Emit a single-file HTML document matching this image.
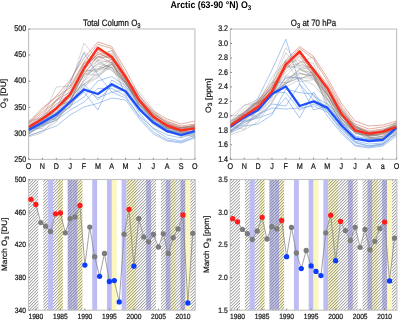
<!DOCTYPE html><html><head><meta charset="utf-8"><style>html,body{margin:0;padding:0;background:#fff;width:399px;height:321px;overflow:hidden}svg{will-change:transform}text{-webkit-font-smoothing:antialiased;text-rendering:geometricPrecision}</style></head><body><div id="w"><svg width="399" height="321" viewBox="0 0 399 321" style="display:block">
<g>
<rect width="399" height="321" fill="#fff"/>
<clipPath id="cTL"><rect x="28.6" y="29.0" width="166.30" height="130.40"/></clipPath>
<rect x="28.6" y="29.0" width="166.30" height="130.40" fill="#fff" stroke="#c2c2c2" stroke-width="1.1"/>
<g clip-path="url(#cTL)">
<polyline points="28.60,122.20 42.46,117.81 56.32,110.23 70.18,93.51 84.03,71.82 97.89,60.27 111.75,53.28 125.61,79.61 139.47,95.81 153.33,119.94 167.18,123.27 181.04,129.95 194.90,124.37" fill="none" stroke="#767676" stroke-width="0.65" stroke-linejoin="round" stroke-opacity="0.45"/>
<polyline points="28.60,130.03 42.46,117.43 56.32,112.20 70.18,94.15 84.03,76.29 97.89,63.56 111.75,59.39 125.61,75.01 139.47,101.44 153.33,116.71 167.18,128.57 181.04,128.03 194.90,126.77" fill="none" stroke="#767676" stroke-width="0.65" stroke-linejoin="round" stroke-opacity="0.45"/>
<polyline points="28.60,129.29 42.46,121.37 56.32,110.11 70.18,96.01 84.03,69.60 97.89,57.13 111.75,57.91 125.61,81.42 139.47,104.45 153.33,118.65 167.18,127.72 181.04,131.10 194.90,127.89" fill="none" stroke="#767676" stroke-width="0.65" stroke-linejoin="round" stroke-opacity="0.45"/>
<polyline points="28.60,133.50 42.46,126.70 56.32,116.86 70.18,107.19 84.03,85.81 97.89,77.58 111.75,63.56 125.61,86.83 139.47,100.14 153.33,122.54 167.18,132.36 181.04,133.29 194.90,134.39" fill="none" stroke="#767676" stroke-width="0.65" stroke-linejoin="round" stroke-opacity="0.45"/>
<polyline points="28.60,131.00 42.46,124.00 56.32,117.00 70.18,103.00 84.03,84.00 97.89,100.00 111.75,86.00 125.61,92.00 139.47,113.00 153.33,129.00 167.18,138.00 181.04,141.00 194.90,135.00" fill="none" stroke="#5a92de" stroke-width="0.65" stroke-linejoin="round" stroke-opacity="0.8"/>
<polyline points="28.60,133.00 42.46,126.00 56.32,120.00 70.18,110.00 84.03,102.00 97.89,88.40 111.75,88.40 125.61,96.00 139.47,117.00 153.33,132.00 167.18,140.00 181.04,142.00 194.90,137.00" fill="none" stroke="#5a92de" stroke-width="0.65" stroke-linejoin="round" stroke-opacity="0.8"/>
<polyline points="28.60,128.00 42.46,118.00 56.32,87.00 70.18,86.00 84.03,43.10 97.89,60.00 111.75,70.00 125.61,84.00 139.47,100.00 153.33,118.00 167.18,126.00 181.04,130.00 194.90,127.00" fill="none" stroke="#767676" stroke-width="0.65" stroke-linejoin="round" stroke-opacity="0.45"/>
<polyline points="28.60,131.38 42.46,122.32 56.32,107.68 70.18,96.46 84.03,75.24 97.89,68.60 111.75,64.78 125.61,80.97 139.47,105.28 153.33,115.10 167.18,128.08 181.04,132.79 194.90,126.09" fill="none" stroke="#767676" stroke-width="0.65" stroke-linejoin="round" stroke-opacity="0.45"/>
<polyline points="28.60,128.92 42.46,123.89 56.32,116.50 70.18,94.93 84.03,70.07 97.89,71.46 111.75,61.74 125.61,83.81 139.47,103.10 153.33,113.52 167.18,131.29 181.04,133.82 194.90,126.90" fill="none" stroke="#767676" stroke-width="0.65" stroke-linejoin="round" stroke-opacity="0.45"/>
<polyline points="28.60,128.00 42.46,120.00 56.32,108.00 70.18,82.00 84.03,53.00 97.89,74.70 111.75,92.00 125.61,90.00 139.47,108.00 153.33,123.00 167.18,132.00 181.04,136.00 194.90,132.00" fill="none" stroke="#5a92de" stroke-width="0.65" stroke-linejoin="round" stroke-opacity="0.8"/>
<polyline points="28.60,124.00 42.46,112.00 56.32,100.00 70.18,92.00 84.03,66.00 97.89,50.00 111.75,58.00 125.61,78.00 139.47,100.00 153.33,115.00 167.18,122.00 181.04,127.00 194.90,126.00" fill="none" stroke="#c8705a" stroke-width="0.65" stroke-linejoin="round" stroke-opacity="0.85"/>
<polyline points="28.60,120.52 42.46,117.94 56.32,109.16 70.18,89.73 84.03,62.39 97.89,56.68 111.75,57.12 125.61,79.22 139.47,92.55 153.33,109.69 167.18,124.57 181.04,128.05 194.90,127.21" fill="none" stroke="#767676" stroke-width="0.65" stroke-linejoin="round" stroke-opacity="0.45"/>
<polyline points="28.60,132.00 42.46,125.00 56.32,118.00 70.18,106.00 84.03,97.00 97.89,81.00 111.75,76.60 125.61,86.00 139.47,104.00 153.33,120.00 167.18,129.00 181.04,133.00 194.90,131.00" fill="none" stroke="#5a92de" stroke-width="0.65" stroke-linejoin="round" stroke-opacity="0.8"/>
<polyline points="28.60,129.86 42.46,116.84 56.32,119.72 70.18,101.33 84.03,71.46 97.89,69.12 111.75,59.07 125.61,95.50 139.47,107.84 153.33,121.53 167.18,128.26 181.04,127.84 194.90,129.92" fill="none" stroke="#767676" stroke-width="0.65" stroke-linejoin="round" stroke-opacity="0.45"/>
<polyline points="28.60,122.00 42.46,108.00 56.32,97.00 70.18,88.00 84.03,64.00 97.89,49.00 111.75,55.00 125.61,76.00 139.47,99.00 153.33,114.00 167.18,123.00 181.04,128.00 194.90,125.00" fill="none" stroke="#c8705a" stroke-width="0.65" stroke-linejoin="round" stroke-opacity="0.85"/>
<polyline points="28.60,127.44 42.46,121.89 56.32,113.18 70.18,107.34 84.03,77.93 97.89,65.98 111.75,70.48 125.61,82.09 139.47,108.19 153.33,116.43 167.18,126.17 181.04,132.86 194.90,132.82" fill="none" stroke="#767676" stroke-width="0.65" stroke-linejoin="round" stroke-opacity="0.45"/>
<polyline points="28.60,134.36 42.46,123.17 56.32,113.05 70.18,94.98 84.03,83.62 97.89,73.89 111.75,64.56 125.61,82.19 139.47,99.76 153.33,119.88 167.18,128.64 181.04,137.09 194.90,130.43" fill="none" stroke="#767676" stroke-width="0.65" stroke-linejoin="round" stroke-opacity="0.45"/>
<polyline points="28.60,136.00 42.46,131.00 56.32,126.00 70.18,115.00 84.03,107.00 97.89,103.40 111.75,98.00 125.61,100.00 139.47,119.00 153.33,134.00 167.18,141.00 181.04,143.00 194.90,138.00" fill="none" stroke="#5a92de" stroke-width="0.65" stroke-linejoin="round" stroke-opacity="0.8"/>
<polyline points="28.60,130.00 42.46,122.00 56.32,114.00 70.18,100.00 84.03,88.00 97.89,97.80 111.75,92.20 125.61,98.00 139.47,116.00 153.33,128.00 167.18,135.00 181.04,138.00 194.90,133.00" fill="none" stroke="#5a92de" stroke-width="0.65" stroke-linejoin="round" stroke-opacity="0.8"/>
<polyline points="28.60,124.03 42.46,119.36 56.32,112.48 70.18,99.52 84.03,80.85 97.89,60.01 111.75,62.54 125.61,84.20 139.47,101.17 153.33,111.32 167.18,128.58 181.04,135.97 194.90,130.83" fill="none" stroke="#767676" stroke-width="0.65" stroke-linejoin="round" stroke-opacity="0.45"/>
<polyline points="28.60,128.14 42.46,116.97 56.32,105.35 70.18,101.59 84.03,67.46 97.89,54.38 111.75,50.79 125.61,76.01 139.47,97.50 153.33,112.82 167.18,123.32 181.04,128.07 194.90,125.22" fill="none" stroke="#767676" stroke-width="0.65" stroke-linejoin="round" stroke-opacity="0.45"/>
<polyline points="28.60,129.16 42.46,118.84 56.32,100.65 70.18,95.62 84.03,63.73 97.89,58.09 111.75,50.23 125.61,76.48 139.47,95.25 153.33,114.89 167.18,131.36 181.04,127.82 194.90,126.36" fill="none" stroke="#767676" stroke-width="0.65" stroke-linejoin="round" stroke-opacity="0.45"/>
<polyline points="28.60,129.00 42.46,121.00 56.32,113.00 70.18,104.00 84.03,92.00 97.89,110.00 111.75,80.00 125.61,88.00 139.47,106.00 153.33,121.00 167.18,130.00 181.04,135.00 194.90,130.00" fill="none" stroke="#5a92de" stroke-width="0.65" stroke-linejoin="round" stroke-opacity="0.8"/>
<polyline points="28.60,129.89 42.46,124.71 56.32,120.66 70.18,104.64 84.03,88.00 97.89,69.81 111.75,67.59 125.61,82.70 139.47,105.25 153.33,117.57 167.18,125.60 181.04,135.17 194.90,136.17" fill="none" stroke="#767676" stroke-width="0.65" stroke-linejoin="round" stroke-opacity="0.45"/>
<polyline points="28.60,130.00 42.46,121.00 56.32,100.00 70.18,82.00 84.03,51.80 97.89,62.00 111.75,68.00 125.61,84.00 139.47,101.00 153.33,118.00 167.18,127.00 181.04,131.00 194.90,128.00" fill="none" stroke="#767676" stroke-width="0.65" stroke-linejoin="round" stroke-opacity="0.45"/>
<polyline points="28.60,129.00 42.46,119.00 56.32,108.00 70.18,97.00 84.03,70.00 97.89,52.00 111.75,60.00 125.61,80.00 139.47,102.00 153.33,117.00 167.18,125.00 181.04,130.00 194.90,129.00" fill="none" stroke="#c8705a" stroke-width="0.65" stroke-linejoin="round" stroke-opacity="0.85"/>
<polyline points="28.60,133.05 42.46,125.22 56.32,106.58 70.18,96.57 84.03,73.80 97.89,64.02 111.75,67.06 125.61,81.92 139.47,105.47 153.33,119.07 167.18,126.96 181.04,131.97 194.90,130.34" fill="none" stroke="#767676" stroke-width="0.65" stroke-linejoin="round" stroke-opacity="0.45"/>
<polyline points="28.60,126.00 42.46,114.00 56.32,101.00 70.18,86.00 84.03,62.00 97.89,44.40 111.75,48.50 125.61,74.00 139.47,99.00 153.33,113.00 167.18,121.00 181.04,126.00 194.90,124.00" fill="none" stroke="#c8705a" stroke-width="0.65" stroke-linejoin="round" stroke-opacity="0.85"/>
<polyline points="28.60,136.93 42.46,132.71 56.32,117.82 70.18,100.33 84.03,80.87 97.89,69.46 111.75,64.14 125.61,80.67 139.47,101.63 153.33,121.67 167.18,130.41 181.04,133.00 194.90,136.80" fill="none" stroke="#767676" stroke-width="0.65" stroke-linejoin="round" stroke-opacity="0.45"/>
<polyline points="28.60,135.52 42.46,130.76 56.32,122.05 70.18,100.71 84.03,73.40 97.89,75.47 111.75,66.99 125.61,93.68 139.47,108.02 153.33,124.97 167.18,132.26 181.04,129.86 194.90,135.22" fill="none" stroke="#767676" stroke-width="0.65" stroke-linejoin="round" stroke-opacity="0.45"/>
<polyline points="28.60,123.00 42.46,110.00 56.32,96.00 70.18,80.00 84.03,58.00 97.89,41.90 111.75,46.60 125.61,70.00 139.47,96.00 153.33,111.00 167.18,119.00 181.04,124.00 194.90,121.00" fill="none" stroke="#c8705a" stroke-width="0.65" stroke-linejoin="round" stroke-opacity="0.85"/>
<polyline points="28.60,128.00 42.46,118.00 56.32,107.00 70.18,101.00 84.03,74.00 97.89,56.00 111.75,63.00 125.61,82.00 139.47,103.00 153.33,118.00 167.18,127.00 181.04,132.00 194.90,131.00" fill="none" stroke="#c8705a" stroke-width="0.65" stroke-linejoin="round" stroke-opacity="0.85"/>
<polyline points="28.60,127.00 42.46,116.00 56.32,104.00 70.18,95.00 84.03,68.00 97.89,54.00 111.75,58.00 125.61,78.00 139.47,101.00 153.33,116.00 167.18,124.00 181.04,129.00 194.90,127.00" fill="none" stroke="#c8705a" stroke-width="0.65" stroke-linejoin="round" stroke-opacity="0.85"/>
<polyline points="28.60,128.08 42.46,128.55 56.32,107.70 70.18,98.13 84.03,83.76 97.89,76.65 111.75,61.93 125.61,79.61 139.47,107.75 153.33,122.85 167.18,126.91 181.04,131.56 194.90,128.79" fill="none" stroke="#767676" stroke-width="0.65" stroke-linejoin="round" stroke-opacity="0.45"/>
<polyline points="28.60,130.00 42.46,122.40 56.32,114.60 70.18,102.00 84.03,89.70 97.89,94.00 111.75,84.20 125.61,91.20 139.47,109.30 153.33,122.60 167.18,131.20 181.04,135.00 194.90,131.20" fill="none" stroke="#1f50ff" stroke-width="2.3" stroke-linejoin="round" stroke-opacity="1.0"/>
<polyline points="28.60,127.00 42.46,119.00 56.32,108.50 70.18,94.00 84.03,68.50 97.89,47.60 111.75,57.00 125.61,77.00 139.47,100.60 153.33,116.70 167.18,125.60 181.04,130.30 194.90,128.40" fill="none" stroke="#ff2b1c" stroke-width="2.3" stroke-linejoin="round" stroke-opacity="1.0"/>
</g>
<line x1="28.60" y1="159.4" x2="28.60" y2="157.8" stroke="#8a8a8a" stroke-width="1"/>
<text transform="translate(28.6 168.5) scale(1 1.16)" font-family='"Liberation Sans", sans-serif' font-size="7.2" font-weight="normal" text-anchor="middle" fill="#141414" stroke="#141414" stroke-width="0.2">O</text>
<line x1="42.46" y1="159.4" x2="42.46" y2="157.8" stroke="#8a8a8a" stroke-width="1"/>
<text transform="translate(42.46 168.5) scale(1 1.16)" font-family='"Liberation Sans", sans-serif' font-size="7.2" font-weight="normal" text-anchor="middle" fill="#141414" stroke="#141414" stroke-width="0.2">N</text>
<line x1="56.32" y1="159.4" x2="56.32" y2="157.8" stroke="#8a8a8a" stroke-width="1"/>
<text transform="translate(56.32 168.5) scale(1 1.16)" font-family='"Liberation Sans", sans-serif' font-size="7.2" font-weight="normal" text-anchor="middle" fill="#141414" stroke="#141414" stroke-width="0.2">D</text>
<line x1="70.18" y1="159.4" x2="70.18" y2="157.8" stroke="#8a8a8a" stroke-width="1"/>
<text transform="translate(70.18 168.5) scale(1 1.16)" font-family='"Liberation Sans", sans-serif' font-size="7.2" font-weight="normal" text-anchor="middle" fill="#141414" stroke="#141414" stroke-width="0.2">J</text>
<line x1="84.03" y1="159.4" x2="84.03" y2="157.8" stroke="#8a8a8a" stroke-width="1"/>
<text transform="translate(84.03 168.5) scale(1 1.16)" font-family='"Liberation Sans", sans-serif' font-size="7.2" font-weight="normal" text-anchor="middle" fill="#141414" stroke="#141414" stroke-width="0.2">F</text>
<line x1="97.89" y1="159.4" x2="97.89" y2="157.8" stroke="#8a8a8a" stroke-width="1"/>
<text transform="translate(97.89 168.5) scale(1 1.16)" font-family='"Liberation Sans", sans-serif' font-size="7.2" font-weight="normal" text-anchor="middle" fill="#141414" stroke="#141414" stroke-width="0.2">M</text>
<line x1="111.75" y1="159.4" x2="111.75" y2="157.8" stroke="#8a8a8a" stroke-width="1"/>
<text transform="translate(111.75 168.5) scale(1 1.16)" font-family='"Liberation Sans", sans-serif' font-size="7.2" font-weight="normal" text-anchor="middle" fill="#141414" stroke="#141414" stroke-width="0.2">A</text>
<line x1="125.61" y1="159.4" x2="125.61" y2="157.8" stroke="#8a8a8a" stroke-width="1"/>
<text transform="translate(125.61 168.5) scale(1 1.16)" font-family='"Liberation Sans", sans-serif' font-size="7.2" font-weight="normal" text-anchor="middle" fill="#141414" stroke="#141414" stroke-width="0.2">M</text>
<line x1="139.47" y1="159.4" x2="139.47" y2="157.8" stroke="#8a8a8a" stroke-width="1"/>
<text transform="translate(139.47 168.5) scale(1 1.16)" font-family='"Liberation Sans", sans-serif' font-size="7.2" font-weight="normal" text-anchor="middle" fill="#141414" stroke="#141414" stroke-width="0.2">J</text>
<line x1="153.33" y1="159.4" x2="153.33" y2="157.8" stroke="#8a8a8a" stroke-width="1"/>
<text transform="translate(153.33 168.5) scale(1 1.16)" font-family='"Liberation Sans", sans-serif' font-size="7.2" font-weight="normal" text-anchor="middle" fill="#141414" stroke="#141414" stroke-width="0.2">J</text>
<line x1="167.18" y1="159.4" x2="167.18" y2="157.8" stroke="#8a8a8a" stroke-width="1"/>
<text transform="translate(167.18 168.5) scale(1 1.16)" font-family='"Liberation Sans", sans-serif' font-size="7.2" font-weight="normal" text-anchor="middle" fill="#141414" stroke="#141414" stroke-width="0.2">A</text>
<line x1="181.04" y1="159.4" x2="181.04" y2="157.8" stroke="#8a8a8a" stroke-width="1"/>
<text transform="translate(181.04 168.5) scale(1 1.16)" font-family='"Liberation Sans", sans-serif' font-size="7.2" font-weight="normal" text-anchor="middle" fill="#141414" stroke="#141414" stroke-width="0.2">S</text>
<line x1="194.90" y1="159.4" x2="194.90" y2="157.8" stroke="#8a8a8a" stroke-width="1"/>
<text transform="translate(194.9 168.5) scale(1 1.16)" font-family='"Liberation Sans", sans-serif' font-size="7.2" font-weight="normal" text-anchor="middle" fill="#141414" stroke="#141414" stroke-width="0.2">O</text>
<line x1="28.6" y1="29.00" x2="30.200000000000003" y2="29.00" stroke="#8a8a8a" stroke-width="1"/>
<text transform="translate(26.200000000000003 31.3) scale(1 1.16)" font-family='"Liberation Sans", sans-serif' font-size="7.1" font-weight="normal" text-anchor="end" fill="#141414" stroke="#141414" stroke-width="0.2">500</text>
<line x1="28.6" y1="55.08" x2="30.200000000000003" y2="55.08" stroke="#8a8a8a" stroke-width="1"/>
<text transform="translate(26.200000000000003 57.38) scale(1 1.16)" font-family='"Liberation Sans", sans-serif' font-size="7.1" font-weight="normal" text-anchor="end" fill="#141414" stroke="#141414" stroke-width="0.2">450</text>
<line x1="28.6" y1="81.16" x2="30.200000000000003" y2="81.16" stroke="#8a8a8a" stroke-width="1"/>
<text transform="translate(26.200000000000003 83.46) scale(1 1.16)" font-family='"Liberation Sans", sans-serif' font-size="7.1" font-weight="normal" text-anchor="end" fill="#141414" stroke="#141414" stroke-width="0.2">400</text>
<line x1="28.6" y1="107.24" x2="30.200000000000003" y2="107.24" stroke="#8a8a8a" stroke-width="1"/>
<text transform="translate(26.200000000000003 109.54) scale(1 1.16)" font-family='"Liberation Sans", sans-serif' font-size="7.1" font-weight="normal" text-anchor="end" fill="#141414" stroke="#141414" stroke-width="0.2">350</text>
<line x1="28.6" y1="133.32" x2="30.200000000000003" y2="133.32" stroke="#8a8a8a" stroke-width="1"/>
<text transform="translate(26.200000000000003 135.62) scale(1 1.16)" font-family='"Liberation Sans", sans-serif' font-size="7.1" font-weight="normal" text-anchor="end" fill="#141414" stroke="#141414" stroke-width="0.2">300</text>
<line x1="28.6" y1="159.40" x2="30.200000000000003" y2="159.40" stroke="#8a8a8a" stroke-width="1"/>
<text transform="translate(26.200000000000003 161.7) scale(1 1.16)" font-family='"Liberation Sans", sans-serif' font-size="7.1" font-weight="normal" text-anchor="end" fill="#141414" stroke="#141414" stroke-width="0.2">250</text>
<text transform="translate(111.75 25.8) scale(1 1.18)" font-family='"Liberation Sans", sans-serif' font-size="7.9" font-weight="normal" text-anchor="middle" fill="#141414" stroke="#141414" stroke-width="0.2">Total Column O<tspan font-size="5.8" dy="1.6">3</tspan></text>
<clipPath id="cTR"><rect x="230.4" y="29.05" width="166.20" height="130.25"/></clipPath>
<rect x="230.4" y="29.05" width="166.20" height="130.25" fill="#fff" stroke="#c2c2c2" stroke-width="1.1"/>
<g clip-path="url(#cTR)">
<polyline points="230.40,127.00 244.25,117.00 258.10,107.00 271.95,92.00 285.80,67.00 299.65,54.00 313.50,72.00 327.35,89.00 341.20,113.00 355.05,129.00 368.90,134.00 382.75,132.00 396.60,128.00" fill="none" stroke="#c8705a" stroke-width="0.65" stroke-linejoin="round" stroke-opacity="0.85"/>
<polyline points="230.40,121.50 244.25,105.53 258.10,99.32 271.95,89.66 285.80,63.13 299.65,60.18 313.50,74.77 327.35,88.86 341.20,111.19 355.05,127.82 368.90,132.23 382.75,131.47 396.60,122.80" fill="none" stroke="#767676" stroke-width="0.65" stroke-linejoin="round" stroke-opacity="0.45"/>
<polyline points="230.40,122.00 244.25,112.00 258.10,101.00 271.95,84.00 285.80,60.00 299.65,46.50 313.50,56.40 327.35,78.00 341.20,103.00 355.05,121.00 368.90,126.00 382.75,125.00 396.60,121.00" fill="none" stroke="#c8705a" stroke-width="0.65" stroke-linejoin="round" stroke-opacity="0.85"/>
<polyline points="230.40,120.77 244.25,112.36 258.10,103.00 271.95,94.91 285.80,83.62 299.65,73.26 313.50,76.67 327.35,95.54 341.20,118.55 355.05,129.75 368.90,135.30 382.75,130.44 396.60,124.47" fill="none" stroke="#767676" stroke-width="0.65" stroke-linejoin="round" stroke-opacity="0.45"/>
<polyline points="230.40,132.95 244.25,119.91 258.10,110.61 271.95,92.35 285.80,78.31 299.65,72.70 313.50,78.32 327.35,94.43 341.20,119.97 355.05,131.57 368.90,135.86 382.75,134.90 396.60,128.30" fill="none" stroke="#767676" stroke-width="0.65" stroke-linejoin="round" stroke-opacity="0.45"/>
<polyline points="230.40,133.00 244.25,126.00 258.10,124.00 271.95,115.00 285.80,89.00 299.65,92.70 313.50,94.00 327.35,116.00 341.20,133.00 355.05,146.00 368.90,148.00 382.75,146.00 396.60,136.00" fill="none" stroke="#5a92de" stroke-width="0.65" stroke-linejoin="round" stroke-opacity="0.8"/>
<polyline points="230.40,132.67 244.25,120.24 258.10,103.83 271.95,93.08 285.80,86.63 299.65,79.85 313.50,71.24 327.35,108.50 341.20,119.80 355.05,130.38 368.90,137.45 382.75,138.42 396.60,134.99" fill="none" stroke="#767676" stroke-width="0.65" stroke-linejoin="round" stroke-opacity="0.45"/>
<polyline points="230.40,130.14 244.25,125.71 258.10,115.51 271.95,103.04 285.80,75.62 299.65,78.84 313.50,74.50 327.35,97.88 341.20,123.48 355.05,138.50 368.90,140.67 382.75,137.84 396.60,131.76" fill="none" stroke="#767676" stroke-width="0.65" stroke-linejoin="round" stroke-opacity="0.45"/>
<polyline points="230.40,124.25 244.25,114.69 258.10,109.15 271.95,94.92 285.80,71.73 299.65,62.20 313.50,57.00 327.35,94.40 341.20,117.85 355.05,133.06 368.90,135.25 382.75,133.33 396.60,128.26" fill="none" stroke="#767676" stroke-width="0.65" stroke-linejoin="round" stroke-opacity="0.45"/>
<polyline points="230.40,124.00 244.25,113.00 258.10,98.00 271.95,70.00 285.80,39.20 299.65,84.00 313.50,100.00 327.35,106.00 341.20,122.00 355.05,136.00 368.90,139.00 382.75,138.00 396.60,126.00" fill="none" stroke="#5a92de" stroke-width="0.65" stroke-linejoin="round" stroke-opacity="0.8"/>
<polyline points="230.40,125.00 244.25,114.00 258.10,103.00 271.95,87.00 285.80,62.00 299.65,48.30 313.50,58.90 327.35,81.00 341.20,106.00 355.05,124.00 368.90,129.00 382.75,127.00 396.60,123.00" fill="none" stroke="#c8705a" stroke-width="0.65" stroke-linejoin="round" stroke-opacity="0.85"/>
<polyline points="230.40,132.00 244.25,123.00 258.10,114.00 271.95,108.00 285.80,109.00 299.65,108.00 313.50,106.00 327.35,112.00 341.20,129.00 355.05,143.00 368.90,146.00 382.75,144.00 396.60,133.00" fill="none" stroke="#5a92de" stroke-width="0.65" stroke-linejoin="round" stroke-opacity="0.8"/>
<polyline points="230.40,126.00 244.25,115.00 258.10,104.00 271.95,89.00 285.80,65.00 299.65,50.00 313.50,70.00 327.35,86.00 341.20,110.00 355.05,127.00 368.90,132.00 382.75,130.00 396.60,126.00" fill="none" stroke="#c8705a" stroke-width="0.65" stroke-linejoin="round" stroke-opacity="0.85"/>
<polyline points="230.40,125.00 244.25,116.00 258.10,108.00 271.95,92.00 285.80,92.70 299.65,110.00 313.50,104.00 327.35,110.00 341.20,128.00 355.05,141.00 368.90,144.00 382.75,143.00 396.60,129.00" fill="none" stroke="#5a92de" stroke-width="0.65" stroke-linejoin="round" stroke-opacity="0.8"/>
<polyline points="230.40,127.00 244.25,116.00 258.10,106.00 271.95,91.00 285.80,66.00 299.65,53.00 313.50,74.00 327.35,92.00 341.20,114.00 355.05,130.00 368.90,135.00 382.75,133.00 396.60,128.00" fill="none" stroke="#c8705a" stroke-width="0.65" stroke-linejoin="round" stroke-opacity="0.85"/>
<polyline points="230.40,134.80 244.25,129.95 258.10,121.65 271.95,101.89 285.80,83.57 299.65,77.16 313.50,78.71 327.35,98.69 341.20,122.82 355.05,130.06 368.90,137.00 382.75,138.99 396.60,130.26" fill="none" stroke="#767676" stroke-width="0.65" stroke-linejoin="round" stroke-opacity="0.45"/>
<polyline points="230.40,128.00 244.25,118.00 258.10,108.00 271.95,94.00 285.80,69.00 299.65,56.00 313.50,76.00 327.35,94.00 341.20,116.00 355.05,131.00 368.90,136.00 382.75,134.00 396.60,129.00" fill="none" stroke="#c8705a" stroke-width="0.65" stroke-linejoin="round" stroke-opacity="0.85"/>
<polyline points="230.40,124.40 244.25,118.72 258.10,107.33 271.95,97.14 285.80,61.34 299.65,81.87 313.50,79.54 327.35,94.85 341.20,116.13 355.05,131.72 368.90,137.78 382.75,136.33 396.60,129.93" fill="none" stroke="#767676" stroke-width="0.65" stroke-linejoin="round" stroke-opacity="0.45"/>
<polyline points="230.40,115.50 244.25,115.00 258.10,100.46 271.95,86.37 285.80,67.95 299.65,65.39 313.50,68.12 327.35,88.58 341.20,118.43 355.05,131.79 368.90,133.98 382.75,132.11 396.60,126.86" fill="none" stroke="#767676" stroke-width="0.65" stroke-linejoin="round" stroke-opacity="0.45"/>
<polyline points="230.40,131.00 244.25,122.00 258.10,118.00 271.95,113.00 285.80,97.60 299.65,118.00 313.50,92.00 327.35,112.00 341.20,131.00 355.05,145.00 368.90,147.00 382.75,145.00 396.60,134.00" fill="none" stroke="#5a92de" stroke-width="0.65" stroke-linejoin="round" stroke-opacity="0.8"/>
<polyline points="230.40,116.67 244.25,105.12 258.10,102.98 271.95,77.50 285.80,60.73 299.65,53.50 313.50,68.93 327.35,88.60 341.20,116.65 355.05,125.85 368.90,133.51 382.75,131.27 396.60,121.19" fill="none" stroke="#767676" stroke-width="0.65" stroke-linejoin="round" stroke-opacity="0.45"/>
<polyline points="230.40,121.45 244.25,114.55 258.10,116.41 271.95,97.79 285.80,66.17 299.65,68.30 313.50,67.84 327.35,92.99 341.20,123.37 355.05,131.68 368.90,138.98 382.75,136.29 396.60,125.31" fill="none" stroke="#767676" stroke-width="0.65" stroke-linejoin="round" stroke-opacity="0.45"/>
<polyline points="230.40,128.08 244.25,111.57 258.10,102.65 271.95,90.58 285.80,75.82 299.65,62.14 313.50,63.05 327.35,99.50 341.20,109.10 355.05,127.10 368.90,134.74 382.75,136.65 396.60,121.75" fill="none" stroke="#767676" stroke-width="0.65" stroke-linejoin="round" stroke-opacity="0.45"/>
<polyline points="230.40,130.00 244.25,121.00 258.10,117.00 271.95,104.00 285.80,106.00 299.65,84.00 313.50,110.00 327.35,106.00 341.20,127.00 355.05,142.00 368.90,146.00 382.75,144.00 396.60,132.00" fill="none" stroke="#5a92de" stroke-width="0.65" stroke-linejoin="round" stroke-opacity="0.8"/>
<polyline points="230.40,124.53 244.25,108.96 258.10,101.68 271.95,94.52 285.80,65.91 299.65,63.70 313.50,68.71 327.35,91.04 341.20,115.02 355.05,124.53 368.90,137.45 382.75,133.66 396.60,123.08" fill="none" stroke="#767676" stroke-width="0.65" stroke-linejoin="round" stroke-opacity="0.45"/>
<polyline points="230.40,128.42 244.25,119.10 258.10,108.25 271.95,82.02 285.80,82.68 299.65,70.13 313.50,73.09 327.35,94.88 341.20,110.94 355.05,126.59 368.90,132.87 382.75,137.51 396.60,124.34" fill="none" stroke="#767676" stroke-width="0.65" stroke-linejoin="round" stroke-opacity="0.45"/>
<polyline points="230.40,126.49 244.25,124.88 258.10,114.60 271.95,94.07 285.80,83.05 299.65,78.21 313.50,84.86 327.35,99.72 341.20,121.62 355.05,132.48 368.90,138.68 382.75,138.36 396.60,132.17" fill="none" stroke="#767676" stroke-width="0.65" stroke-linejoin="round" stroke-opacity="0.45"/>
<polyline points="230.40,124.00 244.25,114.00 258.10,100.00 271.95,82.00 285.80,47.70 299.65,66.00 313.50,72.00 327.35,88.00 341.20,110.00 355.05,126.00 368.90,132.00 382.75,131.00 396.60,125.00" fill="none" stroke="#767676" stroke-width="0.65" stroke-linejoin="round" stroke-opacity="0.45"/>
<polyline points="230.40,126.25 244.25,129.38 258.10,107.81 271.95,92.36 285.80,83.64 299.65,74.09 313.50,75.28 327.35,104.02 341.20,114.67 355.05,133.61 368.90,135.39 382.75,133.75 396.60,127.74" fill="none" stroke="#767676" stroke-width="0.65" stroke-linejoin="round" stroke-opacity="0.45"/>
<polyline points="230.40,125.00 244.25,116.00 258.10,104.00 271.95,86.00 285.80,52.70 299.65,68.00 313.50,74.00 327.35,90.00 341.20,112.00 355.05,128.00 368.90,133.00 382.75,132.00 396.60,126.00" fill="none" stroke="#767676" stroke-width="0.65" stroke-linejoin="round" stroke-opacity="0.45"/>
<polyline points="230.40,126.77 244.25,115.28 258.10,104.77 271.95,95.55 285.80,80.93 299.65,69.10 313.50,75.83 327.35,100.76 341.20,112.47 355.05,128.17 368.90,136.08 382.75,130.60 396.60,125.30" fill="none" stroke="#767676" stroke-width="0.65" stroke-linejoin="round" stroke-opacity="0.45"/>
<polyline points="230.40,122.28 244.25,120.81 258.10,111.46 271.95,100.17 285.80,81.72 299.65,69.01 313.50,77.22 327.35,103.35 341.20,118.30 355.05,133.68 368.90,135.89 382.75,132.29 396.60,128.61" fill="none" stroke="#767676" stroke-width="0.65" stroke-linejoin="round" stroke-opacity="0.45"/>
<polyline points="230.40,127.00 244.25,118.00 258.10,110.00 271.95,96.00 285.80,77.70 299.65,77.70 313.50,96.40 327.35,104.00 341.20,121.00 355.05,137.00 368.90,140.00 382.75,139.00 396.60,127.00" fill="none" stroke="#5a92de" stroke-width="0.65" stroke-linejoin="round" stroke-opacity="0.8"/>
<polyline points="230.40,124.00 244.25,113.00 258.10,102.00 271.95,88.00 285.80,64.00 299.65,52.00 313.50,68.00 327.35,84.00 341.20,108.00 355.05,126.00 368.90,131.00 382.75,129.00 396.60,125.00" fill="none" stroke="#c8705a" stroke-width="0.65" stroke-linejoin="round" stroke-opacity="0.85"/>
<polyline points="230.40,126.80 244.25,117.40 258.10,110.00 271.95,94.00 285.80,86.40 299.65,106.00 313.50,101.40 327.35,107.90 341.20,125.00 355.05,138.60 368.90,141.00 382.75,140.00 396.60,127.50" fill="none" stroke="#1f50ff" stroke-width="2.3" stroke-linejoin="round" stroke-opacity="1.0"/>
<polyline points="230.40,125.80 244.25,116.10 258.10,106.80 271.95,91.50 285.80,64.50 299.65,51.40 313.50,70.00 327.35,88.00 341.20,113.50 355.05,130.30 368.90,133.60 382.75,131.60 396.60,127.00" fill="none" stroke="#ff2b1c" stroke-width="2.3" stroke-linejoin="round" stroke-opacity="1.0"/>
</g>
<line x1="230.40" y1="159.3" x2="230.40" y2="157.70000000000002" stroke="#8a8a8a" stroke-width="1"/>
<text transform="translate(230.4 168.5) scale(1 1.16)" font-family='"Liberation Sans", sans-serif' font-size="7.2" font-weight="normal" text-anchor="middle" fill="#141414" stroke="#141414" stroke-width="0.2">O</text>
<line x1="244.25" y1="159.3" x2="244.25" y2="157.70000000000002" stroke="#8a8a8a" stroke-width="1"/>
<text transform="translate(244.25 168.5) scale(1 1.16)" font-family='"Liberation Sans", sans-serif' font-size="7.2" font-weight="normal" text-anchor="middle" fill="#141414" stroke="#141414" stroke-width="0.2">N</text>
<line x1="258.10" y1="159.3" x2="258.10" y2="157.70000000000002" stroke="#8a8a8a" stroke-width="1"/>
<text transform="translate(258.1 168.5) scale(1 1.16)" font-family='"Liberation Sans", sans-serif' font-size="7.2" font-weight="normal" text-anchor="middle" fill="#141414" stroke="#141414" stroke-width="0.2">D</text>
<line x1="271.95" y1="159.3" x2="271.95" y2="157.70000000000002" stroke="#8a8a8a" stroke-width="1"/>
<text transform="translate(271.95 168.5) scale(1 1.16)" font-family='"Liberation Sans", sans-serif' font-size="7.2" font-weight="normal" text-anchor="middle" fill="#141414" stroke="#141414" stroke-width="0.2">J</text>
<line x1="285.80" y1="159.3" x2="285.80" y2="157.70000000000002" stroke="#8a8a8a" stroke-width="1"/>
<text transform="translate(285.8 168.5) scale(1 1.16)" font-family='"Liberation Sans", sans-serif' font-size="7.2" font-weight="normal" text-anchor="middle" fill="#141414" stroke="#141414" stroke-width="0.2">F</text>
<line x1="299.65" y1="159.3" x2="299.65" y2="157.70000000000002" stroke="#8a8a8a" stroke-width="1"/>
<text transform="translate(299.65 168.5) scale(1 1.16)" font-family='"Liberation Sans", sans-serif' font-size="7.2" font-weight="normal" text-anchor="middle" fill="#141414" stroke="#141414" stroke-width="0.2">M</text>
<line x1="313.50" y1="159.3" x2="313.50" y2="157.70000000000002" stroke="#8a8a8a" stroke-width="1"/>
<text transform="translate(313.5 168.5) scale(1 1.16)" font-family='"Liberation Sans", sans-serif' font-size="7.2" font-weight="normal" text-anchor="middle" fill="#141414" stroke="#141414" stroke-width="0.2">A</text>
<line x1="327.35" y1="159.3" x2="327.35" y2="157.70000000000002" stroke="#8a8a8a" stroke-width="1"/>
<text transform="translate(327.35 168.5) scale(1 1.16)" font-family='"Liberation Sans", sans-serif' font-size="7.2" font-weight="normal" text-anchor="middle" fill="#141414" stroke="#141414" stroke-width="0.2">M</text>
<line x1="341.20" y1="159.3" x2="341.20" y2="157.70000000000002" stroke="#8a8a8a" stroke-width="1"/>
<text transform="translate(341.2 168.5) scale(1 1.16)" font-family='"Liberation Sans", sans-serif' font-size="7.2" font-weight="normal" text-anchor="middle" fill="#141414" stroke="#141414" stroke-width="0.2">J</text>
<line x1="355.05" y1="159.3" x2="355.05" y2="157.70000000000002" stroke="#8a8a8a" stroke-width="1"/>
<text transform="translate(355.05 168.5) scale(1 1.16)" font-family='"Liberation Sans", sans-serif' font-size="7.2" font-weight="normal" text-anchor="middle" fill="#141414" stroke="#141414" stroke-width="0.2">J</text>
<line x1="368.90" y1="159.3" x2="368.90" y2="157.70000000000002" stroke="#8a8a8a" stroke-width="1"/>
<text transform="translate(368.9 168.5) scale(1 1.16)" font-family='"Liberation Sans", sans-serif' font-size="7.2" font-weight="normal" text-anchor="middle" fill="#141414" stroke="#141414" stroke-width="0.2">A</text>
<line x1="382.75" y1="159.3" x2="382.75" y2="157.70000000000002" stroke="#8a8a8a" stroke-width="1"/>
<text transform="translate(382.75 168.5) scale(1 1.16)" font-family='"Liberation Sans", sans-serif' font-size="7.2" font-weight="normal" text-anchor="middle" fill="#141414" stroke="#141414" stroke-width="0.2">a</text>
<line x1="396.60" y1="159.3" x2="396.60" y2="157.70000000000002" stroke="#8a8a8a" stroke-width="1"/>
<text transform="translate(396.6 168.5) scale(1 1.16)" font-family='"Liberation Sans", sans-serif' font-size="7.2" font-weight="normal" text-anchor="middle" fill="#141414" stroke="#141414" stroke-width="0.2">O</text>
<line x1="230.4" y1="29.05" x2="232.0" y2="29.05" stroke="#8a8a8a" stroke-width="1"/>
<text transform="translate(228.0 31.35) scale(1 1.16)" font-family='"Liberation Sans", sans-serif' font-size="7.1" font-weight="normal" text-anchor="end" fill="#141414" stroke="#141414" stroke-width="0.2">3.2</text>
<line x1="230.4" y1="43.52" x2="232.0" y2="43.52" stroke="#8a8a8a" stroke-width="1"/>
<text transform="translate(228.0 45.82) scale(1 1.16)" font-family='"Liberation Sans", sans-serif' font-size="7.1" font-weight="normal" text-anchor="end" fill="#141414" stroke="#141414" stroke-width="0.2">3.0</text>
<line x1="230.4" y1="57.99" x2="232.0" y2="57.99" stroke="#8a8a8a" stroke-width="1"/>
<text transform="translate(228.0 60.29) scale(1 1.16)" font-family='"Liberation Sans", sans-serif' font-size="7.1" font-weight="normal" text-anchor="end" fill="#141414" stroke="#141414" stroke-width="0.2">2.8</text>
<line x1="230.4" y1="72.47" x2="232.0" y2="72.47" stroke="#8a8a8a" stroke-width="1"/>
<text transform="translate(228.0 74.77) scale(1 1.16)" font-family='"Liberation Sans", sans-serif' font-size="7.1" font-weight="normal" text-anchor="end" fill="#141414" stroke="#141414" stroke-width="0.2">2.6</text>
<line x1="230.4" y1="86.94" x2="232.0" y2="86.94" stroke="#8a8a8a" stroke-width="1"/>
<text transform="translate(228.0 89.24) scale(1 1.16)" font-family='"Liberation Sans", sans-serif' font-size="7.1" font-weight="normal" text-anchor="end" fill="#141414" stroke="#141414" stroke-width="0.2">2.4</text>
<line x1="230.4" y1="101.41" x2="232.0" y2="101.41" stroke="#8a8a8a" stroke-width="1"/>
<text transform="translate(228.0 103.71) scale(1 1.16)" font-family='"Liberation Sans", sans-serif' font-size="7.1" font-weight="normal" text-anchor="end" fill="#141414" stroke="#141414" stroke-width="0.2">2.2</text>
<line x1="230.4" y1="115.88" x2="232.0" y2="115.88" stroke="#8a8a8a" stroke-width="1"/>
<text transform="translate(228.0 118.18) scale(1 1.16)" font-family='"Liberation Sans", sans-serif' font-size="7.1" font-weight="normal" text-anchor="end" fill="#141414" stroke="#141414" stroke-width="0.2">2.0</text>
<line x1="230.4" y1="130.36" x2="232.0" y2="130.36" stroke="#8a8a8a" stroke-width="1"/>
<text transform="translate(228.0 132.66) scale(1 1.16)" font-family='"Liberation Sans", sans-serif' font-size="7.1" font-weight="normal" text-anchor="end" fill="#141414" stroke="#141414" stroke-width="0.2">1.8</text>
<line x1="230.4" y1="144.83" x2="232.0" y2="144.83" stroke="#8a8a8a" stroke-width="1"/>
<text transform="translate(228.0 147.13) scale(1 1.16)" font-family='"Liberation Sans", sans-serif' font-size="7.1" font-weight="normal" text-anchor="end" fill="#141414" stroke="#141414" stroke-width="0.2">1.6</text>
<line x1="230.4" y1="159.30" x2="232.0" y2="159.30" stroke="#8a8a8a" stroke-width="1"/>
<text transform="translate(228.0 161.6) scale(1 1.16)" font-family='"Liberation Sans", sans-serif' font-size="7.1" font-weight="normal" text-anchor="end" fill="#141414" stroke="#141414" stroke-width="0.2">1.4</text>
<text transform="translate(313.5 25.8) scale(1 1.18)" font-family='"Liberation Sans", sans-serif' font-size="7.9" font-weight="normal" text-anchor="middle" fill="#141414" stroke="#141414" stroke-width="0.2">O<tspan font-size="5.8" dy="1.6">3</tspan><tspan dy="-1.6"> at 70 hPa</tspan></text>
<rect x="28.5" y="179.5" width="166.70" height="130.70" fill="#fff"/>
<rect x="48.11" y="179.5" width="4.90" height="130.70" fill="#bdbdf4"/>
<rect x="57.92" y="179.5" width="4.90" height="130.70" fill="#fbf7be"/>
<rect x="67.72" y="179.5" width="4.90" height="130.70" fill="#bdbdf4"/>
<rect x="72.63" y="179.5" width="4.90" height="130.70" fill="#bdbdf4"/>
<rect x="77.53" y="179.5" width="4.90" height="130.70" fill="#fbf7be"/>
<rect x="92.24" y="179.5" width="4.90" height="130.70" fill="#bdbdf4"/>
<rect x="106.95" y="179.5" width="4.90" height="130.70" fill="#bdbdf4"/>
<rect x="111.85" y="179.5" width="4.90" height="130.70" fill="#fbf7be"/>
<rect x="121.66" y="179.5" width="4.90" height="130.70" fill="#bdbdf4"/>
<rect x="126.56" y="179.5" width="4.90" height="130.70" fill="#fbf7be"/>
<rect x="131.46" y="179.5" width="4.90" height="130.70" fill="#fbf7be"/>
<rect x="146.17" y="179.5" width="4.90" height="130.70" fill="#bdbdf4"/>
<rect x="165.78" y="179.5" width="4.90" height="130.70" fill="#bdbdf4"/>
<rect x="170.69" y="179.5" width="4.90" height="130.70" fill="#fbf7be"/>
<rect x="180.49" y="179.5" width="4.90" height="130.70" fill="#bdbdf4"/>
<rect x="185.39" y="179.5" width="4.90" height="130.70" fill="#fbf7be"/>
<clipPath id="cBL"><rect x="28.50" y="179.5" width="4.90" height="130.70"/><rect x="33.40" y="179.5" width="4.90" height="130.70"/><rect x="43.21" y="179.5" width="4.90" height="130.70"/><rect x="53.01" y="179.5" width="4.90" height="130.70"/><rect x="57.92" y="179.5" width="4.90" height="130.70"/><rect x="67.72" y="179.5" width="4.90" height="130.70"/><rect x="72.63" y="179.5" width="4.90" height="130.70"/><rect x="77.53" y="179.5" width="4.90" height="130.70"/><rect x="126.56" y="179.5" width="4.90" height="130.70"/><rect x="131.46" y="179.5" width="4.90" height="130.70"/><rect x="136.36" y="179.5" width="4.90" height="130.70"/><rect x="141.27" y="179.5" width="4.90" height="130.70"/><rect x="146.17" y="179.5" width="4.90" height="130.70"/><rect x="151.07" y="179.5" width="4.90" height="130.70"/><rect x="160.88" y="179.5" width="4.90" height="130.70"/><rect x="165.78" y="179.5" width="4.90" height="130.70"/><rect x="170.69" y="179.5" width="4.90" height="130.70"/><rect x="175.59" y="179.5" width="4.90" height="130.70"/><rect x="180.49" y="179.5" width="4.90" height="130.70"/><rect x="190.30" y="179.5" width="4.90" height="130.70"/></clipPath>
<path clip-path="url(#cBL)" d="M-102.95,310.20L27.75,179.50M-99.95,310.20L30.75,179.50M-96.95,310.20L33.75,179.50M-93.95,310.20L36.75,179.50M-90.95,310.20L39.75,179.50M-87.95,310.20L42.75,179.50M-84.95,310.20L45.75,179.50M-81.95,310.20L48.75,179.50M-78.95,310.20L51.75,179.50M-75.95,310.20L54.75,179.50M-72.95,310.20L57.75,179.50M-69.95,310.20L60.75,179.50M-66.95,310.20L63.75,179.50M-63.95,310.20L66.75,179.50M-60.95,310.20L69.75,179.50M-57.95,310.20L72.75,179.50M-54.95,310.20L75.75,179.50M-51.95,310.20L78.75,179.50M-48.95,310.20L81.75,179.50M-45.95,310.20L84.75,179.50M-42.95,310.20L87.75,179.50M-39.95,310.20L90.75,179.50M-36.95,310.20L93.75,179.50M-33.95,310.20L96.75,179.50M-30.95,310.20L99.75,179.50M-27.95,310.20L102.75,179.50M-24.95,310.20L105.75,179.50M-21.95,310.20L108.75,179.50M-18.95,310.20L111.75,179.50M-15.95,310.20L114.75,179.50M-12.95,310.20L117.75,179.50M-9.95,310.20L120.75,179.50M-6.95,310.20L123.75,179.50M-3.95,310.20L126.75,179.50M-0.95,310.20L129.75,179.50M2.05,310.20L132.75,179.50M5.05,310.20L135.75,179.50M8.05,310.20L138.75,179.50M11.05,310.20L141.75,179.50M14.05,310.20L144.75,179.50M17.05,310.20L147.75,179.50M20.05,310.20L150.75,179.50M23.05,310.20L153.75,179.50M26.05,310.20L156.75,179.50M29.05,310.20L159.75,179.50M32.05,310.20L162.75,179.50M35.05,310.20L165.75,179.50M38.05,310.20L168.75,179.50M41.05,310.20L171.75,179.50M44.05,310.20L174.75,179.50M47.05,310.20L177.75,179.50M50.05,310.20L180.75,179.50M53.05,310.20L183.75,179.50M56.05,310.20L186.75,179.50M59.05,310.20L189.75,179.50M62.05,310.20L192.75,179.50M65.05,310.20L195.75,179.50M68.05,310.20L198.75,179.50M71.05,310.20L201.75,179.50M74.05,310.20L204.75,179.50M77.05,310.20L207.75,179.50M80.05,310.20L210.75,179.50M83.05,310.20L213.75,179.50M86.05,310.20L216.75,179.50M89.05,310.20L219.75,179.50M92.05,310.20L222.75,179.50M95.05,310.20L225.75,179.50M98.05,310.20L228.75,179.50M101.05,310.20L231.75,179.50M104.05,310.20L234.75,179.50M107.05,310.20L237.75,179.50M110.05,310.20L240.75,179.50M113.05,310.20L243.75,179.50M116.05,310.20L246.75,179.50M119.05,310.20L249.75,179.50M122.05,310.20L252.75,179.50M125.05,310.20L255.75,179.50M128.05,310.20L258.75,179.50M131.05,310.20L261.75,179.50M134.05,310.20L264.75,179.50M137.05,310.20L267.75,179.50M140.05,310.20L270.75,179.50M143.05,310.20L273.75,179.50M146.05,310.20L276.75,179.50M149.05,310.20L279.75,179.50M152.05,310.20L282.75,179.50M155.05,310.20L285.75,179.50M158.05,310.20L288.75,179.50M161.05,310.20L291.75,179.50M164.05,310.20L294.75,179.50M167.05,310.20L297.75,179.50M170.05,310.20L300.75,179.50M173.05,310.20L303.75,179.50M176.05,310.20L306.75,179.50M179.05,310.20L309.75,179.50M182.05,310.20L312.75,179.50M185.05,310.20L315.75,179.50M188.05,310.20L318.75,179.50M191.05,310.20L321.75,179.50M194.05,310.20L324.75,179.50M197.05,310.20L327.75,179.50" stroke="#7f7f7f" stroke-width="0.9" fill="none"/>
<rect x="28.5" y="179.5" width="166.70" height="130.70" fill="none" stroke="#c2c2c2" stroke-width="1.1"/>
<polyline points="30.95,199.30 35.85,204.50 40.76,222.60 45.66,226.20 50.56,231.50 55.47,213.80 60.37,213.00 65.27,232.80 70.17,218.70 75.08,217.00 79.98,205.40 84.88,265.10 89.79,227.10 94.69,256.70 99.59,276.30 104.50,253.40 109.40,281.50 114.30,280.60 119.20,301.90 124.11,234.20 129.01,209.30 133.91,266.20 138.82,218.70 143.72,236.90 148.62,241.80 153.52,234.50 158.43,247.00 163.33,233.80 168.23,253.40 173.14,237.70 178.04,228.90 182.94,215.00 187.85,303.00 192.75,233.30" fill="none" stroke="#8a8a8a" stroke-width="0.8"/>
<circle cx="30.95" cy="199.30" r="2.65" fill="#ff1c1c"/>
<circle cx="35.85" cy="204.50" r="2.65" fill="#ff1c1c"/>
<circle cx="40.76" cy="222.60" r="2.65" fill="#7c7c7c"/>
<circle cx="45.66" cy="226.20" r="2.65" fill="#7c7c7c"/>
<circle cx="50.56" cy="231.50" r="2.65" fill="#7c7c7c"/>
<circle cx="55.47" cy="213.80" r="2.65" fill="#ff1c1c"/>
<circle cx="60.37" cy="213.00" r="2.65" fill="#ff1c1c"/>
<circle cx="65.27" cy="232.80" r="2.65" fill="#7c7c7c"/>
<circle cx="70.17" cy="218.70" r="2.65" fill="#7c7c7c"/>
<circle cx="75.08" cy="217.00" r="2.65" fill="#7c7c7c"/>
<circle cx="79.98" cy="205.40" r="2.65" fill="#ff1c1c"/>
<circle cx="84.88" cy="265.10" r="2.65" fill="#0a3cff"/>
<circle cx="89.79" cy="227.10" r="2.65" fill="#7c7c7c"/>
<circle cx="94.69" cy="256.70" r="2.65" fill="#7c7c7c"/>
<circle cx="99.59" cy="276.30" r="2.65" fill="#0a3cff"/>
<circle cx="104.50" cy="253.40" r="2.65" fill="#7c7c7c"/>
<circle cx="109.40" cy="281.50" r="2.65" fill="#0a3cff"/>
<circle cx="114.30" cy="280.60" r="2.65" fill="#0a3cff"/>
<circle cx="119.20" cy="301.90" r="2.65" fill="#0a3cff"/>
<circle cx="124.11" cy="234.20" r="2.65" fill="#7c7c7c"/>
<circle cx="129.01" cy="209.30" r="2.65" fill="#ff1c1c"/>
<circle cx="133.91" cy="266.20" r="2.65" fill="#0a3cff"/>
<circle cx="138.82" cy="218.70" r="2.65" fill="#7c7c7c"/>
<circle cx="143.72" cy="236.90" r="2.65" fill="#7c7c7c"/>
<circle cx="148.62" cy="241.80" r="2.65" fill="#7c7c7c"/>
<circle cx="153.52" cy="234.50" r="2.65" fill="#7c7c7c"/>
<circle cx="158.43" cy="247.00" r="2.65" fill="#7c7c7c"/>
<circle cx="163.33" cy="233.80" r="2.65" fill="#7c7c7c"/>
<circle cx="168.23" cy="253.40" r="2.65" fill="#7c7c7c"/>
<circle cx="173.14" cy="237.70" r="2.65" fill="#7c7c7c"/>
<circle cx="178.04" cy="228.90" r="2.65" fill="#7c7c7c"/>
<circle cx="182.94" cy="215.00" r="2.65" fill="#ff1c1c"/>
<circle cx="187.85" cy="303.00" r="2.65" fill="#0a3cff"/>
<circle cx="192.75" cy="233.30" r="2.65" fill="#7c7c7c"/>
<line x1="35.85" y1="310.2" x2="35.85" y2="308.59999999999997" stroke="#8a8a8a" stroke-width="1"/>
<text transform="translate(35.85 318.8) scale(1 1.12)" font-family='"Liberation Sans", sans-serif' font-size="6.7" font-weight="normal" text-anchor="middle" fill="#141414" stroke="#141414" stroke-width="0.2">1980</text>
<line x1="60.37" y1="310.2" x2="60.37" y2="308.59999999999997" stroke="#8a8a8a" stroke-width="1"/>
<text transform="translate(60.37 318.8) scale(1 1.12)" font-family='"Liberation Sans", sans-serif' font-size="6.7" font-weight="normal" text-anchor="middle" fill="#141414" stroke="#141414" stroke-width="0.2">1985</text>
<line x1="84.88" y1="310.2" x2="84.88" y2="308.59999999999997" stroke="#8a8a8a" stroke-width="1"/>
<text transform="translate(84.88 318.8) scale(1 1.12)" font-family='"Liberation Sans", sans-serif' font-size="6.7" font-weight="normal" text-anchor="middle" fill="#141414" stroke="#141414" stroke-width="0.2">1990</text>
<line x1="109.40" y1="310.2" x2="109.40" y2="308.59999999999997" stroke="#8a8a8a" stroke-width="1"/>
<text transform="translate(109.4 318.8) scale(1 1.12)" font-family='"Liberation Sans", sans-serif' font-size="6.7" font-weight="normal" text-anchor="middle" fill="#141414" stroke="#141414" stroke-width="0.2">1995</text>
<line x1="133.91" y1="310.2" x2="133.91" y2="308.59999999999997" stroke="#8a8a8a" stroke-width="1"/>
<text transform="translate(133.91 318.8) scale(1 1.12)" font-family='"Liberation Sans", sans-serif' font-size="6.7" font-weight="normal" text-anchor="middle" fill="#141414" stroke="#141414" stroke-width="0.2">2000</text>
<line x1="158.43" y1="310.2" x2="158.43" y2="308.59999999999997" stroke="#8a8a8a" stroke-width="1"/>
<text transform="translate(158.43 318.8) scale(1 1.12)" font-family='"Liberation Sans", sans-serif' font-size="6.7" font-weight="normal" text-anchor="middle" fill="#141414" stroke="#141414" stroke-width="0.2">2005</text>
<line x1="182.94" y1="310.2" x2="182.94" y2="308.59999999999997" stroke="#8a8a8a" stroke-width="1"/>
<text transform="translate(182.94 318.8) scale(1 1.12)" font-family='"Liberation Sans", sans-serif' font-size="6.7" font-weight="normal" text-anchor="middle" fill="#141414" stroke="#141414" stroke-width="0.2">2010</text>
<line x1="28.5" y1="179.50" x2="30.1" y2="179.50" stroke="#8a8a8a" stroke-width="1"/>
<text transform="translate(25.9 181.9) scale(1 1.15)" font-family='"Liberation Sans", sans-serif' font-size="6.7" font-weight="normal" text-anchor="end" fill="#141414" stroke="#141414" stroke-width="0.2">500</text>
<line x1="28.5" y1="212.18" x2="30.1" y2="212.18" stroke="#8a8a8a" stroke-width="1"/>
<text transform="translate(25.9 214.58) scale(1 1.15)" font-family='"Liberation Sans", sans-serif' font-size="6.7" font-weight="normal" text-anchor="end" fill="#141414" stroke="#141414" stroke-width="0.2">460</text>
<line x1="28.5" y1="244.85" x2="30.1" y2="244.85" stroke="#8a8a8a" stroke-width="1"/>
<text transform="translate(25.9 247.25) scale(1 1.15)" font-family='"Liberation Sans", sans-serif' font-size="6.7" font-weight="normal" text-anchor="end" fill="#141414" stroke="#141414" stroke-width="0.2">420</text>
<line x1="28.5" y1="277.52" x2="30.1" y2="277.52" stroke="#8a8a8a" stroke-width="1"/>
<text transform="translate(25.9 279.92) scale(1 1.15)" font-family='"Liberation Sans", sans-serif' font-size="6.7" font-weight="normal" text-anchor="end" fill="#141414" stroke="#141414" stroke-width="0.2">380</text>
<line x1="28.5" y1="310.20" x2="30.1" y2="310.20" stroke="#8a8a8a" stroke-width="1"/>
<text transform="translate(25.9 312.6) scale(1 1.15)" font-family='"Liberation Sans", sans-serif' font-size="6.7" font-weight="normal" text-anchor="end" fill="#141414" stroke="#141414" stroke-width="0.2">340</text>
<rect x="230.2" y="179.5" width="166.70" height="130.70" fill="#fff"/>
<rect x="249.81" y="179.5" width="4.90" height="130.70" fill="#bdbdf4"/>
<rect x="259.62" y="179.5" width="4.90" height="130.70" fill="#fbf7be"/>
<rect x="269.42" y="179.5" width="4.90" height="130.70" fill="#bdbdf4"/>
<rect x="274.33" y="179.5" width="4.90" height="130.70" fill="#bdbdf4"/>
<rect x="279.23" y="179.5" width="4.90" height="130.70" fill="#fbf7be"/>
<rect x="293.94" y="179.5" width="4.90" height="130.70" fill="#bdbdf4"/>
<rect x="308.65" y="179.5" width="4.90" height="130.70" fill="#bdbdf4"/>
<rect x="313.55" y="179.5" width="4.90" height="130.70" fill="#fbf7be"/>
<rect x="323.36" y="179.5" width="4.90" height="130.70" fill="#bdbdf4"/>
<rect x="328.26" y="179.5" width="4.90" height="130.70" fill="#fbf7be"/>
<rect x="333.16" y="179.5" width="4.90" height="130.70" fill="#fbf7be"/>
<rect x="347.87" y="179.5" width="4.90" height="130.70" fill="#bdbdf4"/>
<rect x="367.48" y="179.5" width="4.90" height="130.70" fill="#bdbdf4"/>
<rect x="372.39" y="179.5" width="4.90" height="130.70" fill="#fbf7be"/>
<rect x="382.19" y="179.5" width="4.90" height="130.70" fill="#bdbdf4"/>
<rect x="387.09" y="179.5" width="4.90" height="130.70" fill="#fbf7be"/>
<clipPath id="cBR"><rect x="230.20" y="179.5" width="4.90" height="130.70"/><rect x="235.10" y="179.5" width="4.90" height="130.70"/><rect x="244.91" y="179.5" width="4.90" height="130.70"/><rect x="254.71" y="179.5" width="4.90" height="130.70"/><rect x="259.62" y="179.5" width="4.90" height="130.70"/><rect x="269.42" y="179.5" width="4.90" height="130.70"/><rect x="274.33" y="179.5" width="4.90" height="130.70"/><rect x="279.23" y="179.5" width="4.90" height="130.70"/><rect x="328.26" y="179.5" width="4.90" height="130.70"/><rect x="333.16" y="179.5" width="4.90" height="130.70"/><rect x="338.06" y="179.5" width="4.90" height="130.70"/><rect x="342.97" y="179.5" width="4.90" height="130.70"/><rect x="347.87" y="179.5" width="4.90" height="130.70"/><rect x="352.77" y="179.5" width="4.90" height="130.70"/><rect x="362.58" y="179.5" width="4.90" height="130.70"/><rect x="367.48" y="179.5" width="4.90" height="130.70"/><rect x="372.39" y="179.5" width="4.90" height="130.70"/><rect x="377.29" y="179.5" width="4.90" height="130.70"/><rect x="382.19" y="179.5" width="4.90" height="130.70"/><rect x="392.00" y="179.5" width="4.90" height="130.70"/></clipPath>
<path clip-path="url(#cBR)" d="M98.05,310.20L228.75,179.50M101.05,310.20L231.75,179.50M104.05,310.20L234.75,179.50M107.05,310.20L237.75,179.50M110.05,310.20L240.75,179.50M113.05,310.20L243.75,179.50M116.05,310.20L246.75,179.50M119.05,310.20L249.75,179.50M122.05,310.20L252.75,179.50M125.05,310.20L255.75,179.50M128.05,310.20L258.75,179.50M131.05,310.20L261.75,179.50M134.05,310.20L264.75,179.50M137.05,310.20L267.75,179.50M140.05,310.20L270.75,179.50M143.05,310.20L273.75,179.50M146.05,310.20L276.75,179.50M149.05,310.20L279.75,179.50M152.05,310.20L282.75,179.50M155.05,310.20L285.75,179.50M158.05,310.20L288.75,179.50M161.05,310.20L291.75,179.50M164.05,310.20L294.75,179.50M167.05,310.20L297.75,179.50M170.05,310.20L300.75,179.50M173.05,310.20L303.75,179.50M176.05,310.20L306.75,179.50M179.05,310.20L309.75,179.50M182.05,310.20L312.75,179.50M185.05,310.20L315.75,179.50M188.05,310.20L318.75,179.50M191.05,310.20L321.75,179.50M194.05,310.20L324.75,179.50M197.05,310.20L327.75,179.50M200.05,310.20L330.75,179.50M203.05,310.20L333.75,179.50M206.05,310.20L336.75,179.50M209.05,310.20L339.75,179.50M212.05,310.20L342.75,179.50M215.05,310.20L345.75,179.50M218.05,310.20L348.75,179.50M221.05,310.20L351.75,179.50M224.05,310.20L354.75,179.50M227.05,310.20L357.75,179.50M230.05,310.20L360.75,179.50M233.05,310.20L363.75,179.50M236.05,310.20L366.75,179.50M239.05,310.20L369.75,179.50M242.05,310.20L372.75,179.50M245.05,310.20L375.75,179.50M248.05,310.20L378.75,179.50M251.05,310.20L381.75,179.50M254.05,310.20L384.75,179.50M257.05,310.20L387.75,179.50M260.05,310.20L390.75,179.50M263.05,310.20L393.75,179.50M266.05,310.20L396.75,179.50M269.05,310.20L399.75,179.50M272.05,310.20L402.75,179.50M275.05,310.20L405.75,179.50M278.05,310.20L408.75,179.50M281.05,310.20L411.75,179.50M284.05,310.20L414.75,179.50M287.05,310.20L417.75,179.50M290.05,310.20L420.75,179.50M293.05,310.20L423.75,179.50M296.05,310.20L426.75,179.50M299.05,310.20L429.75,179.50M302.05,310.20L432.75,179.50M305.05,310.20L435.75,179.50M308.05,310.20L438.75,179.50M311.05,310.20L441.75,179.50M314.05,310.20L444.75,179.50M317.05,310.20L447.75,179.50M320.05,310.20L450.75,179.50M323.05,310.20L453.75,179.50M326.05,310.20L456.75,179.50M329.05,310.20L459.75,179.50M332.05,310.20L462.75,179.50M335.05,310.20L465.75,179.50M338.05,310.20L468.75,179.50M341.05,310.20L471.75,179.50M344.05,310.20L474.75,179.50M347.05,310.20L477.75,179.50M350.05,310.20L480.75,179.50M353.05,310.20L483.75,179.50M356.05,310.20L486.75,179.50M359.05,310.20L489.75,179.50M362.05,310.20L492.75,179.50M365.05,310.20L495.75,179.50M368.05,310.20L498.75,179.50M371.05,310.20L501.75,179.50M374.05,310.20L504.75,179.50M377.05,310.20L507.75,179.50M380.05,310.20L510.75,179.50M383.05,310.20L513.75,179.50M386.05,310.20L516.75,179.50M389.05,310.20L519.75,179.50M392.05,310.20L522.75,179.50M395.05,310.20L525.75,179.50M398.05,310.20L528.75,179.50" stroke="#7f7f7f" stroke-width="0.9" fill="none"/>
<rect x="230.2" y="179.5" width="166.70" height="130.70" fill="none" stroke="#c2c2c2" stroke-width="1.1"/>
<polyline points="232.65,218.70 237.55,221.80 242.46,229.40 247.36,233.70 252.26,239.50 257.17,231.00 262.07,217.30 266.97,239.00 271.88,226.70 276.78,228.90 281.68,220.50 286.58,256.70 291.49,227.40 296.39,253.00 301.29,268.60 306.20,250.50 311.10,265.90 316.00,271.40 320.90,275.60 325.81,232.80 330.71,215.20 335.61,260.70 340.52,221.40 345.42,230.60 350.32,240.40 355.22,227.30 360.13,247.30 365.03,229.40 369.93,249.80 374.84,241.30 379.74,228.50 384.64,222.10 389.55,280.90 394.45,238.10" fill="none" stroke="#8a8a8a" stroke-width="0.8"/>
<circle cx="232.65" cy="218.70" r="2.65" fill="#ff1c1c"/>
<circle cx="237.55" cy="221.80" r="2.65" fill="#ff1c1c"/>
<circle cx="242.46" cy="229.40" r="2.65" fill="#7c7c7c"/>
<circle cx="247.36" cy="233.70" r="2.65" fill="#7c7c7c"/>
<circle cx="252.26" cy="239.50" r="2.65" fill="#7c7c7c"/>
<circle cx="257.17" cy="231.00" r="2.65" fill="#7c7c7c"/>
<circle cx="262.07" cy="217.30" r="2.65" fill="#ff1c1c"/>
<circle cx="266.97" cy="239.00" r="2.65" fill="#7c7c7c"/>
<circle cx="271.88" cy="226.70" r="2.65" fill="#7c7c7c"/>
<circle cx="276.78" cy="228.90" r="2.65" fill="#7c7c7c"/>
<circle cx="281.68" cy="220.50" r="2.65" fill="#ff1c1c"/>
<circle cx="286.58" cy="256.70" r="2.65" fill="#0a3cff"/>
<circle cx="291.49" cy="227.40" r="2.65" fill="#7c7c7c"/>
<circle cx="296.39" cy="253.00" r="2.65" fill="#7c7c7c"/>
<circle cx="301.29" cy="268.60" r="2.65" fill="#0a3cff"/>
<circle cx="306.20" cy="250.50" r="2.65" fill="#7c7c7c"/>
<circle cx="311.10" cy="265.90" r="2.65" fill="#0a3cff"/>
<circle cx="316.00" cy="271.40" r="2.65" fill="#0a3cff"/>
<circle cx="320.90" cy="275.60" r="2.65" fill="#0a3cff"/>
<circle cx="325.81" cy="232.80" r="2.65" fill="#7c7c7c"/>
<circle cx="330.71" cy="215.20" r="2.65" fill="#ff1c1c"/>
<circle cx="335.61" cy="260.70" r="2.65" fill="#0a3cff"/>
<circle cx="340.52" cy="221.40" r="2.65" fill="#ff1c1c"/>
<circle cx="345.42" cy="230.60" r="2.65" fill="#7c7c7c"/>
<circle cx="350.32" cy="240.40" r="2.65" fill="#7c7c7c"/>
<circle cx="355.22" cy="227.30" r="2.65" fill="#7c7c7c"/>
<circle cx="360.13" cy="247.30" r="2.65" fill="#7c7c7c"/>
<circle cx="365.03" cy="229.40" r="2.65" fill="#7c7c7c"/>
<circle cx="369.93" cy="249.80" r="2.65" fill="#7c7c7c"/>
<circle cx="374.84" cy="241.30" r="2.65" fill="#7c7c7c"/>
<circle cx="379.74" cy="228.50" r="2.65" fill="#7c7c7c"/>
<circle cx="384.64" cy="222.10" r="2.65" fill="#ff1c1c"/>
<circle cx="389.55" cy="280.90" r="2.65" fill="#0a3cff"/>
<circle cx="394.45" cy="238.10" r="2.65" fill="#7c7c7c"/>
<line x1="237.55" y1="310.2" x2="237.55" y2="308.59999999999997" stroke="#8a8a8a" stroke-width="1"/>
<text transform="translate(237.55 318.8) scale(1 1.12)" font-family='"Liberation Sans", sans-serif' font-size="6.7" font-weight="normal" text-anchor="middle" fill="#141414" stroke="#141414" stroke-width="0.2">1980</text>
<line x1="262.07" y1="310.2" x2="262.07" y2="308.59999999999997" stroke="#8a8a8a" stroke-width="1"/>
<text transform="translate(262.07 318.8) scale(1 1.12)" font-family='"Liberation Sans", sans-serif' font-size="6.7" font-weight="normal" text-anchor="middle" fill="#141414" stroke="#141414" stroke-width="0.2">1985</text>
<line x1="286.58" y1="310.2" x2="286.58" y2="308.59999999999997" stroke="#8a8a8a" stroke-width="1"/>
<text transform="translate(286.58 318.8) scale(1 1.12)" font-family='"Liberation Sans", sans-serif' font-size="6.7" font-weight="normal" text-anchor="middle" fill="#141414" stroke="#141414" stroke-width="0.2">1990</text>
<line x1="311.10" y1="310.2" x2="311.10" y2="308.59999999999997" stroke="#8a8a8a" stroke-width="1"/>
<text transform="translate(311.1 318.8) scale(1 1.12)" font-family='"Liberation Sans", sans-serif' font-size="6.7" font-weight="normal" text-anchor="middle" fill="#141414" stroke="#141414" stroke-width="0.2">1995</text>
<line x1="335.61" y1="310.2" x2="335.61" y2="308.59999999999997" stroke="#8a8a8a" stroke-width="1"/>
<text transform="translate(335.61 318.8) scale(1 1.12)" font-family='"Liberation Sans", sans-serif' font-size="6.7" font-weight="normal" text-anchor="middle" fill="#141414" stroke="#141414" stroke-width="0.2">2000</text>
<line x1="360.13" y1="310.2" x2="360.13" y2="308.59999999999997" stroke="#8a8a8a" stroke-width="1"/>
<text transform="translate(360.13 318.8) scale(1 1.12)" font-family='"Liberation Sans", sans-serif' font-size="6.7" font-weight="normal" text-anchor="middle" fill="#141414" stroke="#141414" stroke-width="0.2">2005</text>
<line x1="384.64" y1="310.2" x2="384.64" y2="308.59999999999997" stroke="#8a8a8a" stroke-width="1"/>
<text transform="translate(384.64 318.8) scale(1 1.12)" font-family='"Liberation Sans", sans-serif' font-size="6.7" font-weight="normal" text-anchor="middle" fill="#141414" stroke="#141414" stroke-width="0.2">2010</text>
<line x1="230.2" y1="179.50" x2="231.79999999999998" y2="179.50" stroke="#8a8a8a" stroke-width="1"/>
<text transform="translate(227.6 181.9) scale(1 1.15)" font-family='"Liberation Sans", sans-serif' font-size="6.7" font-weight="normal" text-anchor="end" fill="#141414" stroke="#141414" stroke-width="0.2">3.5</text>
<line x1="230.2" y1="212.18" x2="231.79999999999998" y2="212.18" stroke="#8a8a8a" stroke-width="1"/>
<text transform="translate(227.6 214.58) scale(1 1.15)" font-family='"Liberation Sans", sans-serif' font-size="6.7" font-weight="normal" text-anchor="end" fill="#141414" stroke="#141414" stroke-width="0.2">3.0</text>
<line x1="230.2" y1="244.85" x2="231.79999999999998" y2="244.85" stroke="#8a8a8a" stroke-width="1"/>
<text transform="translate(227.6 247.25) scale(1 1.15)" font-family='"Liberation Sans", sans-serif' font-size="6.7" font-weight="normal" text-anchor="end" fill="#141414" stroke="#141414" stroke-width="0.2">2.5</text>
<line x1="230.2" y1="277.52" x2="231.79999999999998" y2="277.52" stroke="#8a8a8a" stroke-width="1"/>
<text transform="translate(227.6 279.92) scale(1 1.15)" font-family='"Liberation Sans", sans-serif' font-size="6.7" font-weight="normal" text-anchor="end" fill="#141414" stroke="#141414" stroke-width="0.2">2.0</text>
<line x1="230.2" y1="310.20" x2="231.79999999999998" y2="310.20" stroke="#8a8a8a" stroke-width="1"/>
<text transform="translate(227.6 312.6) scale(1 1.15)" font-family='"Liberation Sans", sans-serif' font-size="6.7" font-weight="normal" text-anchor="end" fill="#141414" stroke="#141414" stroke-width="0.2">1.5</text>
<text transform="translate(5.9 93.6) rotate(-90) scale(1.06 1.0)" font-family='"Liberation Sans", sans-serif' font-size="7.9" font-weight="normal" text-anchor="middle" fill="#141414" stroke="#141414" stroke-width="0.2">O<tspan font-size="6.2" dy="1.8">3</tspan><tspan dy="-1.8"> [DU]</tspan></text>
<text transform="translate(210.5 95.6) rotate(-90) scale(1.1 1.0)" font-family='"Liberation Sans", sans-serif' font-size="7.9" font-weight="normal" text-anchor="middle" fill="#141414" stroke="#141414" stroke-width="0.2">O<tspan font-size="6.2" dy="1.8">3</tspan><tspan dy="-1.8"> [ppm]</tspan></text>
<text transform="translate(6.9 244.3) rotate(-90) scale(1.04 1.0)" font-family='"Liberation Sans", sans-serif' font-size="7.8" font-weight="normal" text-anchor="middle" fill="#141414" stroke="#141414" stroke-width="0.2">March O<tspan font-size="6.2" dy="1.8">3</tspan><tspan dy="-1.8"> [DU]</tspan></text>
<text transform="translate(208.9 244.3) rotate(-90) scale(1.04 1.0)" font-family='"Liberation Sans", sans-serif' font-size="7.8" font-weight="normal" text-anchor="middle" fill="#141414" stroke="#141414" stroke-width="0.2">March O<tspan font-size="6.2" dy="1.8">3</tspan><tspan dy="-1.8"> [ppm]</tspan></text>
<text transform="translate(210.8 7.9) scale(1 1.1)" font-family='"Liberation Sans", sans-serif' font-size="8.8" font-weight="bold" text-anchor="middle" fill="#000" stroke="#000" stroke-width="0">Arctic (63-90 °N) O<tspan font-size="6.2" dy="2">3</tspan></text>
</g></svg></div></body></html>
